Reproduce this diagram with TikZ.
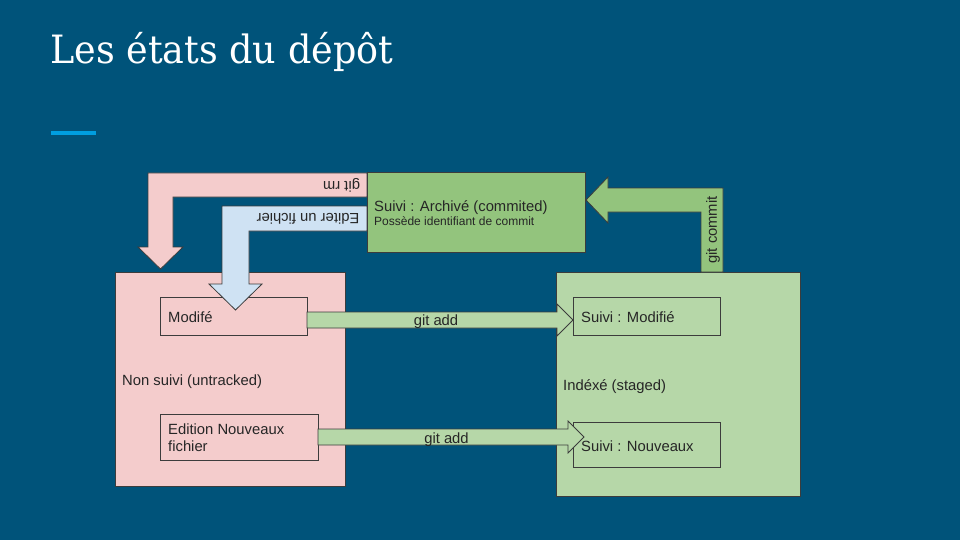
\documentclass[tikz,border=0pt]{standalone}
\usepackage{fontspec}
\setmainfont{Liberation Sans}
\newfontfamily\titlefont{DejaVu Serif}
\definecolor{bg}{RGB}{0,83,122}
\definecolor{accent}{RGB}{0,158,224}
\definecolor{pinkf}{HTML}{F4CCCC}
\definecolor{bluef}{HTML}{CFE2F3}
\definecolor{greenl}{HTML}{B6D7A8}
\definecolor{greend}{HTML}{93C47D}
\definecolor{edge}{RGB}{60,60,60}
\tikzset{
  shapeline/.style={draw=edge, line width=0.8pt},
  boxlbl/.style={anchor=base west, inner sep=0pt, font=\fontsize{14.8}{17}\selectfont, text=black!85},
  smalllbl/.style={anchor=base west, inner sep=0pt, font=\fontsize{12}{14}\selectfont, text=black!85},
  arrlbl/.style={anchor=center, inner sep=0pt, font=\fontsize{14.8}{17}\selectfont, text=black!85},
}
\begin{document}
\begin{tikzpicture}[x=1pt,y=-1pt]
\fill[bg] (0,0) rectangle (960,540);
\useasboundingbox (0,0) rectangle (960,540);
% title
\node[anchor=base west, inner sep=0pt, text=white, font=\titlefont\fontsize{39}{46}\selectfont] (title) at (50,64) {\scalebox{0.937}[1]{Les états du dépôt}};
\fill[accent] (51,131) rectangle (96,135);
% main boxes
\draw[shapeline, fill=pinkf] (115,272) rectangle (345,486);
\coordinate (untr) at (115,272);
\draw[shapeline, fill=greenl] (556,272) rectangle (800,496);
\coordinate (staged) at (556,272);
% inner boxes
\draw[shapeline, fill=pinkf] (160,297) rectangle (307,335);
\draw[shapeline, fill=pinkf] (160,414) rectangle (318,460);
\draw[shapeline, fill=greenl] (573,297) rectangle (720,335);
\draw[shapeline, fill=greenl] (573,422) rectangle (720,467);
% block arrows
\draw[shapeline, fill=pinkf] (367,173) -- (148,173) -- (148,247) -- (138,247) -- (160.5,269) -- (183,247) -- (173,247) -- (173,197) -- (367,197) -- cycle;
\draw[shapeline, fill=bluef] (367,206) -- (222,206) -- (222,284) -- (209,284) -- (235.5,310) -- (262,284) -- (249,284) -- (249,231) -- (367,231) -- cycle;
\draw[shapeline, fill=greend] (701,272) -- (701,212) -- (608,212) -- (608,223) -- (586,200) -- (608,177) -- (608,188) -- (723,188) -- (723,272) -- cycle;
\draw[shapeline, fill=greenl] (307,312) -- (557,312) -- (557,304) -- (573,320) -- (557,336) -- (557,328) -- (307,328) -- cycle;
\draw[shapeline, fill=greenl] (318,429) -- (568,429) -- (568,421) -- (584,437) -- (568,453) -- (568,445) -- (318,445) -- cycle;
% archive box
\draw[shapeline, fill=greend] (367,172) rectangle (585,252);
% texts
\node[boxlbl] (t-arch) at (374,211) {Suivi : Archivé (commited)};
\node[smalllbl] (t-arch2) at (374,225) {Possède identifiant de commit};
\node[boxlbl] (t-untr) at (122,385) {Non suivi (untracked)};
\node[boxlbl] (t-mod) at (168,322) {Modifé};
\node[boxlbl] (t-new) at (168,434) {Edition Nouveaux};
\node[boxlbl] (t-new2) at (168,451) {fichier};
\node[boxlbl] (t-staged) at (563,390) {Indéxé (staged)};
\node[boxlbl] (t-smod) at (581,322) {Suivi : Modifié};
\node[boxlbl] (t-snew) at (581,451) {Suivi : Nouveaux};
\node[arrlbl, anchor=base] (l-add1) at (436,325) {git add};
\node[arrlbl, anchor=base] (l-add2) at (446.5,443) {git add};
\node[arrlbl, rotate=180] (l-rm) at (341.5,185) {git rm};
\node[arrlbl, rotate=180] (l-edit) at (308,219) {Editer un fichier};
\node[arrlbl, rotate=90] (l-commit) at (713,230) {git commit};
\end{tikzpicture}
\end{document}
